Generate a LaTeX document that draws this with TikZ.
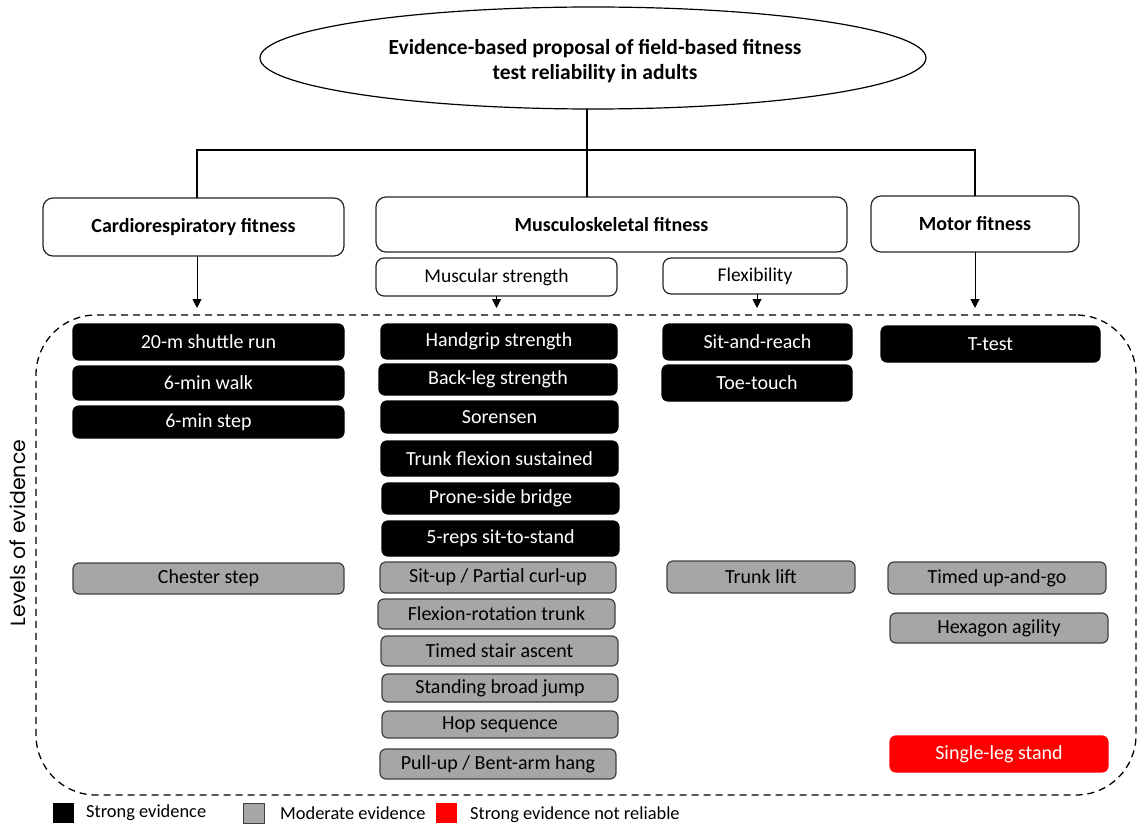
\documentclass[tikz,border=0pt]{standalone}
\usepackage{fontspec}
\setmainfont{Carlito}
\newfontfamily\levfont{Poppins}
\usetikzlibrary{arrows.meta,shapes.geometric}
\tikzset{
 base/.style={rounded corners=6pt, inner sep=0pt, outer sep=0pt, line width=1.2pt, font=\fontsize{20}{23}\selectfont, align=center},
 blackbox/.style={base, draw=black, fill=black, text=white},
 graybox/.style={base, draw=black!75, fill=black!35, text=black},
 redbox/.style={base, draw=red, fill=red, text=white},
 headbox/.style={base, draw=black!85, fill=white, rounded corners=10pt, font=\fontsize{20}{23}\selectfont\bfseries},
 subbox/.style={base, draw=black!85, fill=white, rounded corners=8pt, font=\fontsize{19.5}{23}\selectfont},
 tree/.style={line width=2pt},
 arr/.style={line width=1pt, -{Triangle[length=9pt,width=9pt]}},
 legsq/.style={inner sep=0pt, outer sep=0pt, minimum width=21pt, minimum height=20pt},
 legtxt/.style={anchor=west, inner sep=0pt, font=\fontsize{18.4}{21}\selectfont},
}
\newcommand\mybox[7]{\node[#2, minimum width={(#5-#3)*1pt}, minimum height={(#6-#4)*1pt}] (#1) at ({(#3+#5)/2},{(#4+#6)/2+1}) {#7};}
\begin{document}
\begin{tikzpicture}[x=1pt,y=-1pt]
\useasboundingbox (0,0) rectangle (1137,826);
% title
\node[draw, ellipse, line width=1.2pt, minimum width=666pt, minimum height=102pt, inner sep=0pt, outer sep=0pt] (title) at (593,58) {};
\node[align=center, inner sep=0pt, font=\fontsize{21.5}{25}\selectfont\bfseries] (titletext) at (595,61) {Evidence-based proposal of field-based fitness\\test reliability in adults};
% headers
\mybox{cardio}{headbox}{43}{197}{344}{255}{Cardiorespiratory fitness}
\mybox{musc}{headbox}{376}{196}{847}{251}{Musculoskeletal fitness}
\mybox{motor}{headbox}{871}{195}{1079}{251}{Motor fitness}
\mybox{strength}{subbox}{376}{257}{617}{295}{Muscular strength}
\mybox{flex}{subbox}{663}{257}{847}{293}{Flexibility}
% tree
\coordinate (bar) at (0,150);
\draw[tree] (title.south -| 587,0) -- (587,0 |- musc.north);
\draw[tree] (cardio.north -| 197,0) |- (bar -| motor.north) -- (motor.north);
% arrows
\coordinate (aend) at (0,308);
\draw[arr] (197,0 |- cardio.south) -- (197,0 |- aend);
\draw[arr] (strength.south) -- (strength.south |- aend);
\draw[arr] (757,0 |- flex.south) -- (757,0 |- aend);
\draw[arr] (motor.south) -- (motor.south |- aend);
% levels region
\node[draw, dashed, dash pattern=on 7pt off 5pt, line width=1.3pt, rounded corners=60pt, minimum width=1100pt, minimum height=480pt, inner sep=0pt] (levels) at (586,555) {};
\node[rotate=90, font=\levfont\fontsize{20.5}{23}\selectfont, inner sep=0pt] (levlabel) at (18,533) {Levels of evidence};
% column 1
\mybox{c1}{blackbox}{73}{323}{344}{359}{20-m shuttle run}
\mybox{c2}{blackbox}{73}{365}{344}{399}{6-min walk}
\mybox{c3}{blackbox}{73}{405}{344}{437}{6-min step}
\mybox{c4}{graybox}{73}{562}{344}{593}{Chester step}
% column 2
\mybox{m1}{blackbox}{381}{323}{617}{358}{Handgrip strength}
\mybox{m2}{blackbox}{379}{363}{617}{394}{Back-leg strength}
\mybox{m3}{blackbox}{381}{400}{618}{432}{Sorensen}
\mybox{m4}{blackbox}{381}{440}{618}{475}{Trunk flexion sustained}
\mybox{m5}{blackbox}{382}{482}{619}{513}{Prone-side bridge}
\mybox{m6}{blackbox}{382}{520}{619}{555}{5-reps sit-to-stand}
\mybox{m7}{graybox}{380}{561}{616}{592}{Sit-up / Partial curl-up}
\mybox{m8}{graybox}{378}{598}{615}{628}{Flexion-rotation trunk}
\mybox{m9}{graybox}{381}{635}{618}{665}{Timed stair ascent}
\mybox{m10}{graybox}{382}{673}{618}{701}{Standing broad jump}
\mybox{m11}{graybox}{382}{710}{618}{737}{Hop sequence}
\mybox{m12}{graybox}{380}{748}{616}{778}{Pull-up / Bent-arm hang}
% column 3
\mybox{f1}{blackbox}{663}{323}{852}{359}{Sit-and-reach}
\mybox{f2}{blackbox}{662}{364}{852}{400}{Toe-touch}
\mybox{f3}{graybox}{667}{560}{855}{592}{Trunk lift}
% column 4
\mybox{t1}{blackbox}{881}{325}{1100}{361}{T-test}
\mybox{t2}{graybox}{888}{561}{1106}{593}{Timed up-and-go}
\mybox{t3}{graybox}{890}{612}{1108}{642}{Hexagon agility}
\mybox{t4}{redbox}{890}{735}{1108}{771}{Single-leg stand}
% legend
\node[legsq, fill=black] (l1) at (63.5,813) {};
\node[legtxt] (l1t) at (86,813) {Strong evidence};
\node[legsq, fill=black!35, draw=black!75, line width=1pt] (l2) at (253.5,813) {};
\node[legtxt] (l2t) at (280,813) {Moderate evidence};
\node[legsq, fill=red] (l3) at (446.5,813) {};
\node[legtxt] (l3t) at (470,815) {Strong evidence not reliable};
\end{tikzpicture}
\end{document}
